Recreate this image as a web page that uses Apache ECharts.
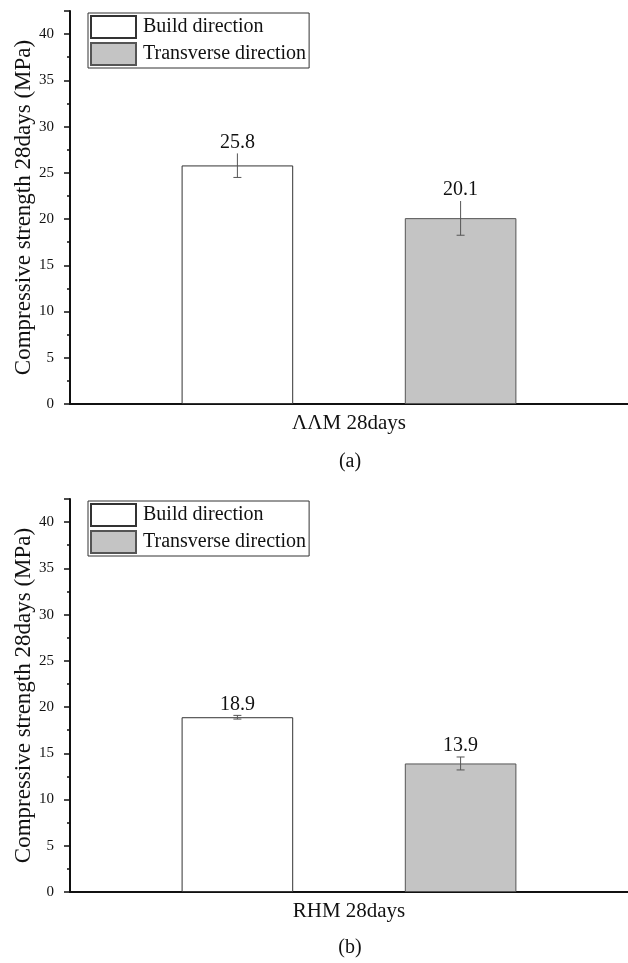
<!DOCTYPE html>
<html>
<head>
<meta charset="utf-8">
<script src="https://cdn.jsdelivr.net/npm/echarts@6/dist/echarts.min.js"></script>
<style>
  html, body { margin: 0; padding: 0; background: #fff; }
  #chart { width: 628px; height: 963px; }
</style>
</head>
<body>
<div id="chart"></div>
<script>
  // data
  const seriesNames = ['Build direction', 'Transverse direction']
  const catA = ['ΛΛM 28days']
  const catB = ['RHM 28days']
  const buildA = [25.8]
  const transA = [20.1]
  const buildErrA = [1.3]
  const transErrA = [1.85]
  const buildB = [18.9]
  const transB = [13.9]
  const buildErrB = [0.2]
  const transErrB = [0.7]
  const yTitle = 'Compressive strength 28days (MPa)'

  const font = '"Liberation Serif", "Times New Roman", serif'
  const colors = ['#ffffff', '#c4c4c4']
  const borders = ['#333333', '#555555']

  let chart = echarts.init(document.getElementById('chart'))

  function errSeries(gi, vals, errs, sign, topCap) {
    return {
      type: 'custom',
      xAxisIndex: gi,
      yAxisIndex: gi * 2,
      z: 5,
      silent: true,
      data: vals.map((v, i) => [i, v, errs[i]]),
      renderItem(params, api) {
        const v = api.value(1), e = api.value(2)
        const band = api.size([1, 0])[0]
        const x = api.coord([api.value(0), v])[0] + sign * band * 0.2
        const hi = api.coord([api.value(0), v + e])[1]
        const lo = api.coord([api.value(0), v - e])[1]
        const st = { stroke: '#555', lineWidth: 1 }
        const kids = [
          { type: 'line', shape: { x1: x, y1: hi, x2: x, y2: lo }, style: st },
          { type: 'line', shape: { x1: x - 4, y1: lo, x2: x + 4, y2: lo }, style: st },
          { type: 'text', style: { x: x, y: hi - 1, text: v.toFixed(1), align: 'center', verticalAlign: 'bottom', font: '20px ' + font, fill: '#111' } }
        ]
        if (topCap) kids.push({ type: 'line', shape: { x1: x - 4, y1: hi, x2: x + 4, y2: hi }, style: st })
        return { type: 'group', children: kids }
      }
    }
  }

  function barSeries(gi, name, vals, k) {
    return {
      type: 'bar',
      name: name,
      xAxisIndex: gi,
      yAxisIndex: gi * 2,
      data: vals,
      barGap: '100%',
      barCategoryGap: '40%',
      itemStyle: { color: colors[k], borderColor: borders[k], borderWidth: 1 }
    }
  }

  function yAxes(gi) {
    return [{
      type: 'value', gridIndex: gi, min: 0, max: 42.5, interval: 5,
      name: yTitle, nameLocation: 'middle', nameGap: 35, nameMoveOverlap: false,
      nameTextStyle: { fontFamily: font, fontSize: 23, color: '#111' },
      axisLine: { show: true, lineStyle: { color: '#111', width: 2 } },
      axisTick: { show: true, length: 6, lineStyle: { color: '#111', width: 1.5 } },
      axisLabel: { fontFamily: font, fontSize: 15, color: '#111', margin: 16,
        formatter: v => (v % 5 === 0 ? v : '') },
      splitLine: { show: false }
    }, {
      type: 'value', gridIndex: gi, min: 0, max: 42.5, interval: 2.5, position: 'left',
      axisLine: { show: false },
      axisTick: { show: true, length: 3, lineStyle: { color: '#111', width: 1.5 } },
      axisLabel: { show: false },
      splitLine: { show: false }
    }]
  }

  function xAxis(gi, cats) {
    return {
      type: 'category', gridIndex: gi, data: cats,
      axisLine: { lineStyle: { color: '#111', width: 2 } },
      axisTick: { show: false },
      axisLabel: { fontFamily: font, fontSize: 21, color: '#111', margin: 9 }
    }
  }

  function legend(top) {
    return {
      data: seriesNames, orient: 'vertical', left: 88, top: top,
      icon: 'rect',
      itemWidth: 45, itemHeight: 22, itemGap: 3,
      padding: [2, 3, 2, 2],
      borderColor: '#333', borderWidth: 1,
      textStyle: { fontFamily: font, fontSize: 20, color: '#111', padding: [0, 0, 0, 2] },
      selectedMode: false
    }
  }

  let options = {
    animation: false,
    grid: [
      { left: 70, top: 11, width: 567, height: 393 },
      { left: 70, top: 499, width: 567, height: 393 }
    ],
    legend: [legend(13), legend(501)],
    xAxis: [xAxis(0, catA), xAxis(1, catB)],
    yAxis: yAxes(0).concat(yAxes(1)),
    graphic: [
      { type: 'text', x: 350, y: 462, style: { text: '(a)', font: '20px ' + font, fill: '#111', align: 'center', verticalAlign: 'middle' } },
      { type: 'text', x: 350, y: 948, style: { text: '(b)', font: '20px ' + font, fill: '#111', align: 'center', verticalAlign: 'middle' } }
    ],
    series: [
      barSeries(0, seriesNames[0], buildA, 0),
      barSeries(0, seriesNames[1], transA, 1),
      errSeries(0, buildA, buildErrA, -1, false),
      errSeries(0, transA, transErrA, 1, false),
      barSeries(1, seriesNames[0], buildB, 0),
      barSeries(1, seriesNames[1], transB, 1),
      errSeries(1, buildB, buildErrB, -1, true),
      errSeries(1, transB, transErrB, 1, true)
    ]
  }

  chart.setOption(options, true)
</script>
</body>
</html>
